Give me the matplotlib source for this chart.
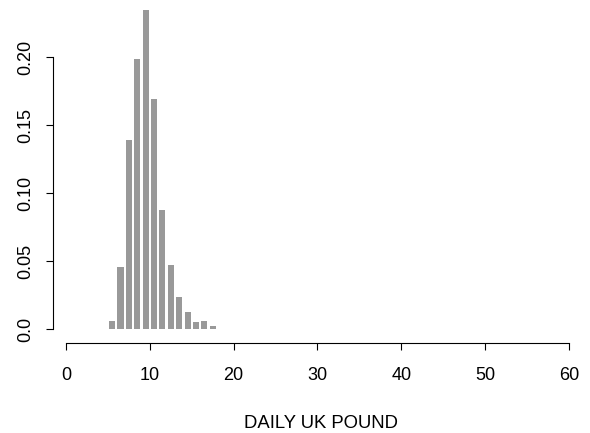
import numpy as np
import matplotlib.pyplot as plt

plt.rcParams['font.family'] = ['Liberation Sans', 'DejaVu Sans']

# bin midpoints and density heights
midpoints = [5.5, 6.5, 7.5, 8.5, 9.5, 10.5, 11.5, 12.5, 13.5, 14.5, 15.5, 16.5, 17.5]
density = [0.006, 0.046, 0.139, 0.199, 0.235, 0.169, 0.088, 0.047,
           0.0235, 0.0125, 0.0055, 0.006, 0.0025]
xticks = [0, 10, 20, 30, 40, 50, 60]
yticks = [0.0, 0.05, 0.10, 0.15, 0.20]
ytick_labels = ['0.0', '0.05', '0.10', '0.15', '0.20']


def main():
    W, H = 590, 433
    fig = plt.figure(figsize=(W / 100, H / 100), dpi=100)
    # axes box in pixels: left 53.3, right 585.6, top 2.9, bottom 342.9
    ax = fig.add_axes([53.3 / W, (H - 342.9) / H, (585.6 - 53.3) / W, 340 / H])
    ax.bar(midpoints, density, width=0.72, color='#999999', linewidth=0)

    ax.set_xlim(-1.52, 62.0)
    ax.set_ylim(-0.01, 0.24)

    for s in ['top', 'right']:
        ax.spines[s].set_visible(False)
    ax.spines['left'].set_bounds(0, 0.2)
    ax.spines['bottom'].set_bounds(0, 60)
    for s in ['left', 'bottom']:
        ax.spines[s].set_linewidth(0.8)

    ax.set_xticks(xticks)
    ax.set_xticklabels([str(t) for t in xticks])
    ax.set_yticks(yticks)
    ax.set_yticklabels(ytick_labels, rotation=90, va='center')
    ax.tick_params(axis='x', length=4.8, width=0.8, labelsize=13, pad=12.5)
    ax.tick_params(axis='y', length=4.8, width=0.8, labelsize=13, pad=9)

    fig.text(321.3 / W, (H - 428) / H, 'DAILY UK POUND', ha='center', va='baseline',
             fontsize=13.3)

    fig.savefig('out.png', dpi=100)


if __name__ == "__main__":
    main()
